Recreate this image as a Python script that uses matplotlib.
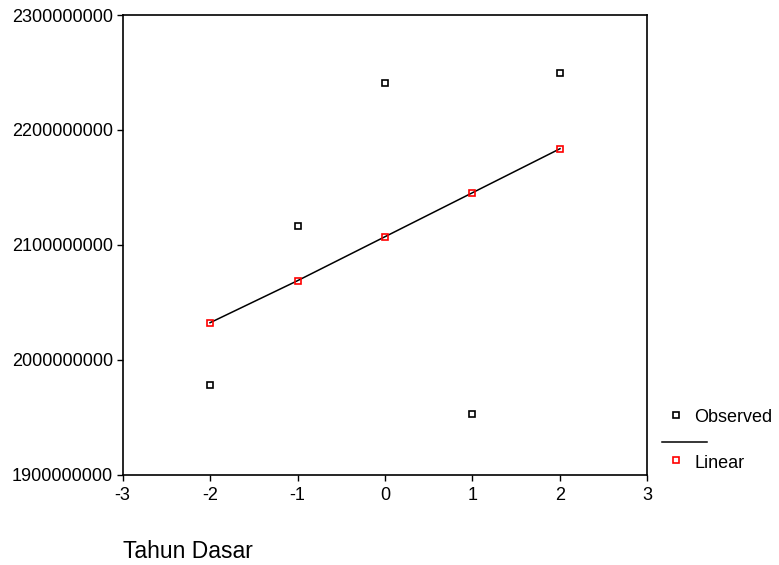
import matplotlib
matplotlib.use("Agg")
import matplotlib.pyplot as plt
from matplotlib.lines import Line2D

plt.rcParams["font.family"] = ["Liberation Sans", "DejaVu Sans"]

# values
tahun = [-2, -1, 0, 1, 2]
observed = [1977900000, 2116300000, 2241100000, 1952900000, 2249800000]
linear = [2032100000, 2068700000, 2107000000, 2145300000, 2183600000]

x_ticks = [-3, -2, -1, 0, 1, 2, 3]
y_ticks = [1900000000, 2000000000, 2100000000, 2200000000, 2300000000]

W, H = 779, 565
fig = plt.figure(figsize=(W / 100, H / 100), dpi=100)
ax = fig.add_axes([122.5 / W, 1 - 474.5 / H, 525 / W, 459.5 / H])

marker_kw = dict(marker="s", markersize=4.6, markerfacecolor="none", markeredgewidth=1.2)

ax.plot(tahun, linear, color="black", linewidth=1.1, zorder=2)
ax.plot(tahun, observed, linestyle="none", markeredgecolor="black", zorder=3, **marker_kw)
ax.plot(tahun, linear, linestyle="none", markeredgecolor="red", zorder=3, **marker_kw)

ax.set_xlim(-3, 3)
ax.set_ylim(1900000000, 2300000000)
ax.set_xticks(x_ticks)
ax.set_xticklabels([str(t) for t in x_ticks])
ax.set_yticks(y_ticks)
ax.set_yticklabels([str(t) for t in y_ticks])
ax.tick_params(direction="out", length=4, width=1, labelsize=13, pad=3, colors="black")
ax.tick_params(axis="x", pad=5)
for s in ax.spines.values():
    s.set_linewidth(1.2)

# x-axis title, left aligned under the plot
fig.text(123 / W, 1 - 558 / H, "Tahun Dasar", fontsize=16.5, ha="left", va="baseline")

# SPSS-style legend at right
def fx(px):
    return px / W

def fy(py):
    return 1 - py / H

fig.add_artist(Line2D([fx(675.7)], [fy(415)], linestyle="none", markeredgecolor="black", **marker_kw))
fig.text(fx(694), fy(418), "Observed", fontsize=13, ha="left", va="center")
fig.add_artist(Line2D([fx(662), fx(707)], [fy(442), fy(442)], color="black", linewidth=1.1))
fig.add_artist(Line2D([fx(675.7)], [fy(460)], linestyle="none", markeredgecolor="red", **marker_kw))
fig.text(fx(694), fy(463), "Linear", fontsize=13, ha="left", va="center")

fig.savefig("out.png", dpi=100)
